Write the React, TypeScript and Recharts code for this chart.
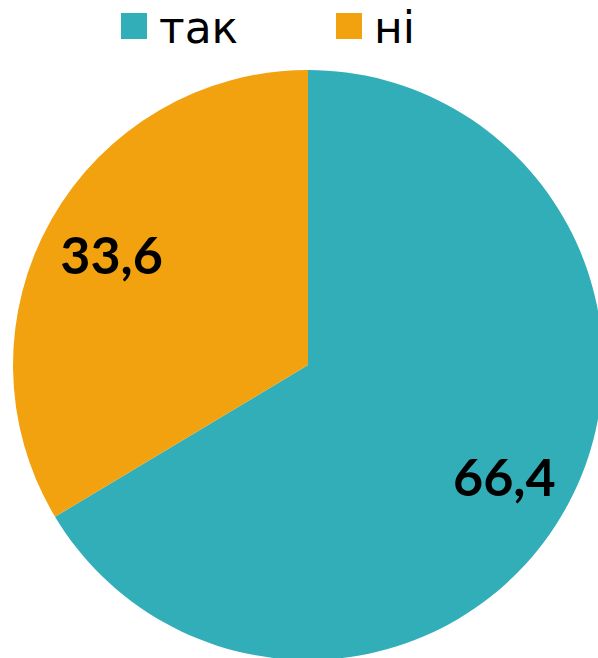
import React from "react";
import { PieChart, Pie, Cell } from "recharts";

const categories = ["так", "ні"];
const values = [66.4, 33.6];
const colors = ["#32AEB8", "#F2A20E"];

const data = categories.map((name, i) => ({ name, value: values[i] }));

const RAD = Math.PI / 180;

const renderLabel = (props: any) => {
  const { cx, cy, midAngle, outerRadius, index } = props;
  const r = outerRadius * 0.765;
  const x = cx + r * Math.cos(-midAngle * RAD);
  const y = cy + r * Math.sin(-midAngle * RAD);
  return (
    <text
      x={x}
      y={y}
      textAnchor="middle"
      dominantBaseline="central"
      fill="#000"
      fontFamily="Lato, 'Open Sans', sans-serif"
      fontWeight="bold"
      fontSize={52}
    >
      {String(values[index]).replace(".", ",")}
    </text>
  );
};

const legendX = [121, 336];

export default function App() {
  return (
    <div style={{ position: "absolute", left: 0, top: 0, width: 598, height: 658, background: "#fff", overflow: "hidden" }}>
      <PieChart width={598} height={658} margin={{ top: 0, right: 0, bottom: 0, left: 0 }}>
        <Pie
          data={data}
          dataKey="value"
          cx={308}
          cy={365}
          outerRadius={295}
          startAngle={90}
          endAngle={-270}
          stroke="none"
          label={renderLabel}
          labelLine={false}
          isAnimationActive={false}
        >
          {data.map((d, i) => (
            <Cell key={d.name} fill={colors[i]} />
          ))}
        </Pie>
      </PieChart>
      <svg width={598} height={60} style={{ position: "absolute", left: 0, top: 0 }}>
        {categories.map((c, i) => (
          <g key={c}>
            <rect x={legendX[i]} y={13} width={26} height={26} fill={colors[i]} />
            <text
              x={legendX[i] + 38}
              y={43}
              fontFamily="'DejaVu Sans', sans-serif"
              fontSize={44}
              fill="#000"
            >
              {c}
            </text>
          </g>
        ))}
      </svg>
    </div>
  );
}
